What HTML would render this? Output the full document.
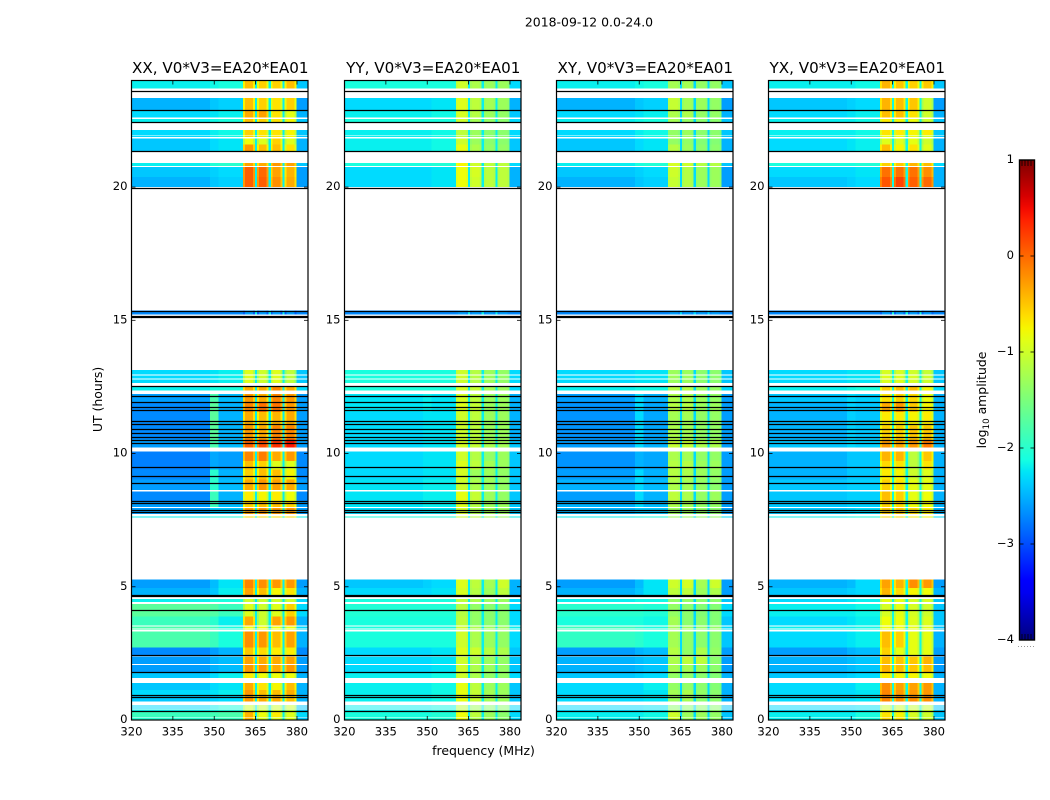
<!DOCTYPE html>
<html lang="en">
<head>
<meta charset="utf-8">
<title>2018-09-12 dynamic spectra</title>
<style>
html,body{margin:0;padding:0;background:#fff;width:1050px;height:800px;overflow:hidden}
svg{display:block}
text{font-family:"DejaVu Sans","Liberation Sans",sans-serif;fill:#000}
</style>
</head>
<body>
<svg id="figure" width="1050" height="800" viewBox="0 0 1050 800" xmlns="http://www.w3.org/2000/svg">
  <defs>
    <linearGradient id="jetGradient" x1="0" y1="1" x2="0" y2="0"></linearGradient>
  </defs>
  <rect x="0" y="0" width="1050" height="800" fill="#fff"/>
  <text x="589" y="26.5" font-size="12.45" text-anchor="middle">2018-09-12 0.0-24.0</text>
  <text x="0" y="0" font-size="12.45" text-anchor="middle" transform="translate(102,399.5) rotate(-90)">UT (hours)</text>
  <text x="483.5" y="755" font-size="12.45" text-anchor="middle">frequency (MHz)</text>
  <text x="0" y="0" font-size="12.45" text-anchor="middle" transform="translate(986,400) rotate(-90)">log<tspan font-size="8.7" dy="3">10</tspan><tspan dy="-3"> amplitude</tspan></text>
  <g id="panels"></g>
  <g id="colorbar"></g>
</svg>
<script>
// ---- Axis ticks ----
const freqTicks = [320, 335, 350, 365, 380];
const utTicks = [0, 5, 10, 15, 20];
const colorbarTicks = [1, 0, -1, -2, -3, -4];

// ---- Heatmap coordinates ----
const polarizations = ["XX", "YY", "XY", "YX"];
const baselineLabel = "V0*V3=EA20*EA01";
const channelEdges = [320, 348.5, 351.5, 360.5, 361.2, 364.0, 364.7, 365.5, 366.2, 369.0, 369.7, 370.5, 371.2, 374.0, 374.7, 375.5, 376.2, 379.1, 379.8, 384];
const utRows = [
[0,.09],[.12,.31],[.32,.40],[.43,.46],[.50,.54],[.70,.92],[.92,1.12],[1.12,1.38],[1.58,1.79],[1.79,2.06],
[2.10,2.38],[2.42,2.72],[2.72,3.32],[3.39,3.44],[3.46,3.50],[3.54,3.88],[3.88,4.36],[4.42,4.55],[4.62,4.95],[4.95,5.27],
[7.60,7.63],[7.74,7.96],[8.00,8.22],[8.22,8.57],[8.64,9.02],[9.02,9.40],[9.40,9.72],[9.72,10.07],[10.22,10.52],[10.52,11.05],
[11.05,11.55],[11.55,11.90],[11.90,12.24],[12.36,12.51],[12.64,12.77],[12.81,12.92],[12.96,13.14],[15.22,15.36],[20.0,20.38],[20.38,20.76],
[20.79,20.91],[21.33,21.6],[21.6,21.83],[21.88,21.93],[21.96,22.14],[22.43,22.56],[22.62,22.89],[22.89,23.34],[23.7,24]
];
const flaggedTimes = [.31,.855,.92,1.79,2.42,4.11,4.62,4.67,7.77,7.88,8.11,8.2,8.86,9.14,9.46,10.36,10.48,10.6,10.75,10.92,11.08,11.19,11.6,11.72,11.93,12.13,12.51,15.11,15.15,15.32,19.95,21.32,22.42,22.89,23.6];

// ---- log10 amplitude per UT row: [left, 350 MHz, mid, band1, band2, band3, band4, right] ----
const levelsXX = [
[-2.0,-1.95,-1.9,-.4,-.9,-.9,-.9,-2.4],[-1.9,-1.85,-1.8,-.4,-.8,-.7,-.9,-2.3],[-2.2,-2.15,-2.1,-1,-1,-1,-1.1,-2.4],[-2.3,-2.2,-2.1,-1,-1,-1,-1,-2.4],[-2.3,-2.2,-2.1,-1,-1,-1,-1,-2.4],
[-2.4,-2.35,-2.3,-.25,-.35,-.35,-.45,-2.5],[-2.3,-2.25,-2.2,-.25,-.45,-.45,-.35,-2.5],[-2.4,-2.3,-2.25,-.35,-.65,-.75,-.45,-2.5],[-2.4,-2.3,-2.2,-.7,-.8,-.8,-.8,-2.5],[-2.6,-2.5,-2.45,-.25,-.25,-.35,-.25,-2.6],
[-2.6,-2.5,-2.45,-.3,-.35,-.35,-.3,-2.6],[-2.7,-2.6,-2.5,-.5,-.6,-.7,-.7,-2.7],[-1.8,-1.9,-2.1,-.2,-.25,-.45,-.3,-2.5],[-1.8,-1.9,-2.1,-.8,-.8,-.8,-.8,-2.3],[-1.8,-1.9,-2.1,-.8,-.8,-.8,-.8,-2.3],
[-1.9,-2,-2.2,-.35,-1,-.3,-.25,-2.5],[-1.7,-1.75,-1.9,-.9,-1,-.9,-.55,-2.3],[-2.2,-2.1,-2.1,-1,-1,-1,-1,-2.3],[-2.5,-2.4,-2.2,-.3,-.45,-.75,-.65,-2.5],[-2.6,-2.45,-2.25,-.15,-.2,-.25,-.25,-2.6],
[-2.2,-2.1,-2.1,-.6,-.6,-.6,-.6,-2.2],[-2.6,-2.4,-2.4,-.3,-.25,-.25,-.25,-2.6],[-2.6,-1.9,-2.45,-.55,-.45,-.45,-.55,-2.6],[-2.7,-1.9,-2.5,-.7,-.75,-.7,-.8,-2.7],[-2.6,-2,-2.45,-.35,-.25,-.3,-.35,-2.6],
[-2.7,-2,-2.5,-.55,-.45,-.45,-.75,-2.7],[-2.75,-2.55,-2.6,-.45,-.55,-.9,-.9,-2.7],[-2.75,-2.55,-2.6,-.15,-.1,-.35,-.25,-2.7],[-2.6,-1.8,-2.45,.05,.15,.3,.45,-2.6],[-2.7,-1.7,-2.5,-.25,-.35,-.15,-.15,-2.6],
[-2.7,-1.7,-2.5,-.35,-.45,-.4,-.35,-2.6],[-2.7,-1.7,-2.5,-.15,-.05,-.05,-.25,-2.6],[-2.6,-1.8,-2.45,-.25,-.35,-.15,-.25,-2.6],[-2.2,-2.1,-2.1,-.35,-.35,-.15,-.35,-2.3],[-2.3,-2.25,-2.2,-.9,-1,-.9,-1.1,-2.4],
[-2.3,-2.25,-2.2,-.9,-1,-.9,-1.1,-2.4],[-2.3,-2.25,-2.2,-.9,-1,-.9,-1.1,-2.4],[-2.7,-2.7,-2.7,-2.6,-2.6,-2.6,-2.6,-2.7],[-2.5,-2.4,-2.35,.05,.05,-.2,-.35,-2.6],[-2.4,-2.35,-2.3,.05,0,-.3,-.4,-2.6],
[-2.2,-2.05,-2,-.3,-.35,-.25,-.3,-2.4],[-2.4,-2.3,-2.25,-.25,-.45,-.45,-.65,-2.5],[-2.4,-2.3,-2.25,-.8,-.9,-.55,-.9,-2.5],[-2.3,-2.2,-2.15,-.55,-.65,-.65,-.75,-2.4],[-2.3,-2.2,-2.15,-.55,-.65,-.65,-.75,-2.4],
[-2.2,-2.15,-2.1,-.45,-.55,-.65,-.75,-2.4],[-2.3,-2.25,-2.2,-.35,-.3,-.65,-.85,-2.5],[-2.5,-2.4,-2.35,-.45,-.55,-.65,-.55,-2.6],[-2.2,-2.15,-2.1,-.45,-.55,-.55,-.45,-2.4]
];
const levelsYY = [
[-2.1,-2.1,-2.05,-.8,-1.2,-1.3,-1.4,-2.3],[-2.1,-2.1,-2.05,-.8,-1.1,-1.3,-1.4,-2.3],[-2.2,-2.2,-2.15,-1.1,-1.3,-1.4,-1.4,-2.3],[-2.2,-2.2,-2.15,-1.1,-1.3,-1.4,-1.4,-2.3],[-2.2,-2.2,-2.15,-1.1,-1.3,-1.4,-1.4,-2.3],
[-2.2,-2.2,-2.15,-.85,-1.05,-1.25,-1.3,-2.4],[-2.2,-2.2,-2.15,-.85,-1.05,-1.25,-1.3,-2.4],[-2.2,-2.2,-2.15,-.85,-1.1,-1.3,-1.3,-2.4],[-2.2,-2.2,-2.15,-1,-1.2,-1.35,-1.35,-2.3],[-2.3,-2.3,-2.25,-1,-1.2,-1.3,-1.35,-2.4],
[-2.3,-2.3,-2.25,-1,-1.2,-1.3,-1.35,-2.4],[-2.3,-2.3,-2.25,-.9,-1,-1.15,-1.2,-2.4],[-2.1,-2.1,-2.1,-1,-1.2,-1.3,-1.35,-2.3],[-2.1,-2.1,-2.1,-1,-1.2,-1.3,-1.3,-2.2],[-2.1,-2.1,-2.1,-1,-1.2,-1.3,-1.3,-2.2],
[-2.1,-2.1,-2.1,-1.1,-1.35,-1.4,-1.4,-2.3],[-2.05,-2.05,-2.05,-1.15,-1.35,-1.4,-1.4,-2.3],[-2.1,-2.1,-2.1,-1.1,-1.2,-1.3,-1.3,-2.3],[-2.3,-2.3,-2.25,-.95,-1.15,-1.3,-1.1,-2.5],[-2.4,-2.35,-2.3,-.9,-1.1,-1.25,-1,-2.5],
[-2.1,-2.1,-2.1,-1,-1.1,-1.2,-1.3,-2.2],[-2.3,-2.25,-2.25,-.95,-1.2,-1.25,-1.3,-2.4],[-2.25,-2.2,-2.2,-.9,-1.15,-1.3,-1.3,-2.4],[-2.25,-2.2,-2.2,-.85,-1.05,-1.3,-1.35,-2.4],[-2.25,-2.2,-2.2,-1,-1.2,-1.3,-1.35,-2.4],
[-2.3,-2.25,-2.25,-.95,-1.3,-1.3,-1.35,-2.4],[-2.3,-2.25,-2.25,-.9,-1.1,-1.25,-1.3,-2.4],[-2.3,-2.25,-2.25,-1,-1.15,-1.35,-1.3,-2.4],[-2.3,-2.25,-2.25,-.95,-1.05,-1.2,-1.25,-2.4],[-2.3,-2.25,-2.25,-1,-1.1,-1.3,-1.3,-2.5],
[-2.3,-2.25,-2.25,-1,-1.1,-1.3,-1.3,-2.5],[-2.25,-2.2,-2.25,-.9,-1.05,-1.3,-1.3,-2.5],[-2.25,-2.2,-2.25,-.95,-1.1,-1.3,-1.3,-2.5],[-2.1,-2.1,-2.1,-.95,-1.05,-1.25,-1.3,-2.3],[-2.1,-2.1,-2.1,-1,-1.15,-1.3,-1.35,-2.3],
[-2.1,-2.1,-2.1,-1,-1.15,-1.3,-1.35,-2.3],[-2.1,-2.1,-2.1,-1,-1.15,-1.3,-1.35,-2.3],[-2.7,-2.7,-2.7,-2.6,-2.6,-2.6,-2.6,-2.7],[-2.3,-2.3,-2.25,-.8,-1,-1.1,-1.1,-2.5],[-2.3,-2.3,-2.25,-.8,-.95,-1.1,-1.1,-2.5],
[-2.1,-2.1,-2.05,-.75,-1,-1.1,-1.1,-2.3],[-2.2,-2.2,-2.15,-.85,-1.2,-1.35,-1.35,-2.4],[-2.2,-2.2,-2.15,-1,-1.3,-1.4,-1.4,-2.4],[-2.2,-2.2,-2.15,-1.1,-1.3,-1.4,-1.4,-2.3],[-2.2,-2.2,-2.15,-1.1,-1.3,-1.4,-1.4,-2.3],
[-2.1,-2.1,-2.1,-1,-1.25,-1.35,-1.4,-2.3],[-2.2,-2.2,-2.15,-.95,-1.15,-1.3,-1.35,-2.4],[-2.3,-2.3,-2.25,-.9,-1.1,-1.25,-1.3,-2.5],[-2.1,-2.1,-2.1,-1,-1.2,-1.3,-1.3,-2.3]
];
const levelsXY = [
[-2.2,-2.2,-2.15,-1,-1.3,-1.3,-1.35,-2.4],[-2.2,-2.2,-2.15,-1,-1.3,-1.3,-1.35,-2.4],[-2.3,-2.3,-2.25,-1.35,-1.4,-1.4,-1.4,-2.4],[-2.3,-2.3,-2.25,-1.4,-1.4,-1.4,-1.4,-2.4],[-2.3,-2.3,-2.25,-1.4,-1.4,-1.4,-1.4,-2.4],
[-2.3,-2.3,-2.25,-1.3,-1.25,-1.4,-1.4,-2.5],[-2.3,-2.3,-2.25,-1.25,-1.2,-1.35,-1.4,-2.5],[-2.3,-2.3,-2.2,-1.35,-1.35,-1.4,-1.45,-2.5],[-2.4,-2.35,-2.3,-1.35,-1.35,-1.4,-1.45,-2.5],[-2.5,-2.45,-2.4,-1.25,-1.25,-1.3,-1.4,-2.6],
[-2.5,-2.45,-2.4,-1.2,-1.1,-1.1,-1.4,-2.6],[-2.6,-2.5,-2.45,-1.15,-1.35,-1.2,-1.35,-2.6],[-1.95,-2,-2.1,-1.25,-1.35,-1.4,-1.4,-2.4],[-1.9,-2,-2.1,-1.3,-1.3,-1.35,-1.35,-2.3],[-1.9,-2,-2.1,-1.3,-1.3,-1.35,-1.35,-2.3],
[-2.1,-2.1,-2.15,-1.25,-1.4,-1.4,-1.45,-2.4],[-2,-2,-2.05,-1.35,-1.4,-1.45,-1.45,-2.3],[-2.2,-2.15,-2.15,-1.35,-1.35,-1.4,-1.4,-2.4],[-2.5,-2.4,-2.25,-1.1,-1.1,-1.3,-1.2,-2.6],[-2.6,-2.45,-2.25,-1,-.95,-1.25,-1,-2.6],
[-2.2,-2.15,-2.1,-1.3,-1.3,-1.35,-1.35,-2.3],[-2.5,-2.4,-2.4,-1.3,-1.3,-1.35,-1.4,-2.6],[-2.5,-2.3,-2.45,-1.2,-1.25,-1.35,-1.35,-2.6],[-2.6,-2.3,-2.5,-1.1,-1.2,-1.35,-1.3,-2.6],[-2.5,-2.3,-2.45,-1.2,-1.25,-1.35,-1.4,-2.6],
[-2.6,-2.3,-2.5,-1.15,-1.2,-1.3,-1.35,-2.6],[-2.65,-2.5,-2.55,-1.15,-1.15,-1.3,-1.3,-2.6],[-2.65,-2.5,-2.55,-1.2,-1.25,-1.35,-1.35,-2.6],[-2.6,-2.3,-2.5,-1.05,-1.05,-1.2,-1.2,-2.6],[-2.65,-2.3,-2.55,-1.2,-1.25,-1.35,-1.35,-2.6],
[-2.65,-2.3,-2.55,-1.25,-1.25,-1.35,-1.35,-2.6],[-2.65,-2.3,-2.55,-1.15,-1.15,-1.3,-1.3,-2.6],[-2.6,-2.3,-2.5,-1.2,-1.2,-1.3,-1.35,-2.6],[-2.2,-2.15,-2.15,-1.15,-1.15,-1.3,-1.35,-2.3],[-2.3,-2.25,-2.25,-1.3,-1.3,-1.4,-1.4,-2.4],
[-2.3,-2.25,-2.25,-1.3,-1.3,-1.4,-1.4,-2.4],[-2.3,-2.25,-2.25,-1.3,-1.3,-1.4,-1.4,-2.4],[-2.7,-2.7,-2.7,-2.6,-2.6,-2.6,-2.6,-2.7],[-2.5,-2.4,-2.35,-1.05,-1.15,-1.3,-1.3,-2.6],[-2.4,-2.35,-2.3,-1,-1.15,-1.3,-1.3,-2.6],
[-2.2,-2.1,-2.05,-.95,-1,-1.15,-1.15,-2.4],[-2.4,-2.3,-2.25,-1.15,-1.3,-1.4,-1.4,-2.5],[-2.4,-2.3,-2.25,-1.35,-1.35,-1.45,-1.45,-2.5],[-2.3,-2.2,-2.15,-1.35,-1.3,-1.4,-1.4,-2.4],[-2.3,-2.2,-2.15,-1.35,-1.3,-1.4,-1.4,-2.4],
[-2.2,-2.15,-2.1,-1.25,-1.35,-1.4,-1.4,-2.4],[-2.3,-2.25,-2.2,-1.2,-1.2,-1.35,-1.35,-2.5],[-2.5,-2.4,-2.35,-1.05,-1.25,-1.3,-1.35,-2.6],[-2.2,-2.15,-2.1,-1.25,-1.25,-1.35,-1.35,-2.4]
];
const levelsYX = [
[-2.2,-2.2,-2.1,-.6,-.65,-.95,-1,-2.4],[-2.2,-2.2,-2.1,-.65,-.75,-.95,-1,-2.4],[-2.3,-2.3,-2.25,-.9,-.9,-1,-1,-2.4],[-2.3,-2.3,-2.25,-1,-1,-1.05,-1.05,-2.4],[-2.3,-2.3,-2.25,-1,-1,-1.05,-1.05,-2.4],
[-2.3,-2.3,-2.25,-.15,-.2,-.2,-.2,-2.5],[-2.3,-2.3,-2.25,-.15,-.25,-.25,-.25,-2.5],[-2.3,-2.3,-2.2,-.2,-.3,-.3,-.25,-2.5],[-2.4,-2.35,-2.3,-.7,-.75,-.75,-.8,-2.5],[-2.5,-2.45,-2.4,-.4,-.45,-.5,-.45,-2.6],
[-2.5,-2.45,-2.4,-.45,-.5,-.5,-.4,-2.6],[-2.6,-2.5,-2.45,-.55,-.85,-.85,-.85,-2.6],[-2.3,-2.25,-2.2,-.45,-.55,-.85,-.85,-2.5],[-2.2,-2.2,-2.15,-.8,-.8,-.85,-.85,-2.4],[-2.2,-2.2,-2.15,-.8,-.8,-.85,-.85,-2.4],
[-2.3,-2.25,-2.2,-.8,-.8,-.9,-.9,-2.4],[-2.2,-2.2,-2.15,-.95,-.85,-.95,-1,-2.4],[-2.3,-2.25,-2.2,-.85,-.85,-.95,-.95,-2.4],[-2.4,-2.35,-2.3,-.4,-.6,-.75,-.8,-2.5],[-2.5,-2.45,-2.3,-.3,-.4,-.2,-.25,-2.6],
[-2.2,-2.15,-2.1,-.6,-.6,-.7,-.75,-2.3],[-2.4,-2.35,-2.3,-.5,-.5,-.6,-.7,-2.5],[-2.4,-2.35,-2.35,-.55,-.6,-.8,-.8,-2.5],[-2.4,-2.35,-2.35,-.45,-.55,-.85,-.8,-2.5],[-2.4,-2.35,-2.35,-.55,-.65,-.85,-.85,-2.5],
[-2.5,-2.4,-2.4,-.7,-.75,-1,-.9,-2.5],[-2.5,-2.4,-2.4,-.6,-.65,-1.1,-.65,-2.5],[-2.5,-2.4,-2.4,-.4,-.4,-1.1,-.5,-2.5],[-2.4,-2.3,-2.35,-.25,-.3,-.25,-.1,-2.5],[-2.5,-2.35,-2.4,-.55,-.55,-.5,-.5,-2.5],
[-2.5,-2.35,-2.4,-.7,-.7,-.75,-.7,-2.5],[-2.5,-2.35,-2.4,-.35,-.25,-.5,-.75,-2.5],[-2.4,-2.3,-2.35,-.65,-.55,-.6,-.8,-2.5],[-2.2,-2.15,-2.1,-.55,-.45,-.45,-.75,-2.3],[-2.3,-2.25,-2.25,-.9,-.9,-.95,-1,-2.4],
[-2.3,-2.25,-2.25,-.9,-.9,-.95,-1,-2.4],[-2.3,-2.25,-2.25,-.95,-.95,-1,-1.05,-2.4],[-2.7,-2.7,-2.7,-2.6,-2.6,-2.6,-2.6,-2.7],[-2.4,-2.35,-2.3,.1,.2,.05,0,-2.5],[-2.3,-2.3,-2.25,-.05,-.05,-.05,-.2,-2.5],
[-2.1,-2.1,-2.05,-.55,-.5,-.4,-.45,-2.3],[-2.3,-2.25,-2.2,-.45,-.75,-.65,-.9,-2.5],[-2.3,-2.25,-2.2,-.9,-.9,-.85,-1,-2.5],[-2.2,-2.2,-2.15,-.8,-.8,-.85,-.95,-2.4],[-2.2,-2.2,-2.15,-.65,-.7,-.75,-.7,-2.4],
[-2.2,-2.2,-2.15,-.7,-.75,-.8,-1,-2.4],[-2.3,-2.25,-2.2,-.45,-.45,-.65,-1,-2.5],[-2.4,-2.35,-2.3,-.4,-.45,-.5,-1,-2.6],[-2.2,-2.2,-2.15,-.4,-.5,-.55,-.5,-2.4]
];
const polarizationLevels = [levelsXX, levelsYY, levelsXY, levelsYX];
const gapChannelLevel = [-2.2, -2.2, -2.3, -2.15];
const bandEdgeDrop = [0.3, 0.08, 0.08, 0.25];
</script>
<script>
const SVG_NS = "http://www.w3.org/2000/svg";
const panelLefts = [131.5, 344.5, 556.5, 768.5];
const panelWidth = 176.5;
const plotTop = 80.5;
const plotBottom = 720;
const freqMin = 320, freqMax = 384, utMin = 0, utMax = 24;
const cbarLeft = 1019.5, cbarRight = 1034.5, cbarTop = 160, cbarBottom = 640, vMin = -4, vMax = 1;

function make(tag, attrs, parent) {
  const el = document.createElementNS(SVG_NS, tag);
  for (const k in attrs) el.setAttribute(k, attrs[k]);
  parent.appendChild(el);
  return el;
}
function xScale(left, f) { return left + (f - freqMin) / (freqMax - freqMin) * panelWidth; }
function yScale(h) { return plotBottom - (h - utMin) / (utMax - utMin) * (plotBottom - plotTop); }
function cbarY(v) { return cbarBottom - (v - vMin) / (vMax - vMin) * (cbarBottom - cbarTop); }

function piecewise(t, pts) {
  if (t <= pts[0][0]) return pts[0][1];
  for (let i = 1; i < pts.length; i++) {
    if (t <= pts[i][0]) {
      const a = pts[i - 1], b = pts[i];
      return a[1] + (b[1] - a[1]) * (t - a[0]) / (b[0] - a[0]);
    }
  }
  return pts[pts.length - 1][1];
}
const jetR = [[0,0],[.35,0],[.66,1],[.89,1],[1,.5]];
const jetG = [[0,0],[.125,0],[.375,1],[.64,1],[.91,0],[1,0]];
const jetB = [[0,.5],[.11,1],[.34,1],[.65,0],[1,0]];
function jet(t) {
  const c = p => Math.round(255 * piecewise(t, p));
  return "rgb(" + c(jetR) + "," + c(jetG) + "," + c(jetB) + ")";
}
function levelColor(v) {
  return jet(Math.max(0, Math.min(1, (v - vMin) / (vMax - vMin))));
}
// Which column of a level row each channel block reads; -1 is a band-gap channel.
const blockColumn = [0, 1, 2, 3, 3, 3, -1, 4, 4, 4, -1, 5, 5, 5, -1, 6, 6, 6, 7];
// Blocks 1 and 3 of each band triple are the band's roll-off edges.
const blockIsEdge = [0, 0, 0, 1, 0, 1, 0, 1, 0, 1, 0, 1, 0, 1, 0, 1, 0, 1, 0];
function channelLevel(row, block, p) {
  const idx = blockColumn[block];
  if (idx < 0) return gapChannelLevel[p];
  return row[idx] - (blockIsEdge[block] ? bandEdgeDrop[p] : 0);
}

const panelsGroup = document.getElementById("panels");
polarizations.forEach(function (pol, p) {
  const left = panelLefts[p];
  const right = left + panelWidth;
  const g = make("g", {}, panelsGroup);
  
  

  const levels = polarizationLevels[p];
  const cells = make("g", { "shape-rendering": "crispEdges" }, g);
  
  
  utRows.forEach(function (span, r) {
    const yA = yScale(span[1]), yB = yScale(span[0]);
    for (let b = 0; b < channelEdges.length - 1; b++) {
      const xA = xScale(left, channelEdges[b]), xB = xScale(left, channelEdges[b + 1]);
      const rect = make("rect", {
        x: xA.toFixed(2), y: yA.toFixed(2),
        width: (xB - xA).toFixed(2), height: Math.max(1, yB - yA).toFixed(2),
        fill: levelColor(channelLevel(levels[r], b, p))
      }, cells);
      
      
    }
  });

  flaggedTimes.forEach(function (h) {
    const y = Math.round(yScale(h) - 0.5) + 0.5;
    const line = make("line", { x1: left, x2: right, y1: y, y2: y, stroke: "#000", "stroke-width": 1.3 }, g);
    
    
  });

  const frame = make("rect", { x: left, y: plotTop, width: panelWidth, height: plotBottom - plotTop, fill: "none", stroke: "#000", "stroke-width": 1.2 }, g);
  
  

  const title = make("text", { x: left + panelWidth / 2 + 0.5, y: 73, "font-size": 15.15, "text-anchor": "middle" }, g);
  title.textContent = pol + ", " + baselineLabel;
  
  

  freqTicks.forEach(function (f) {
    const x = xScale(left, f);
    const bottomTick = make("line", { x1: x, x2: x, y1: plotBottom, y2: plotBottom - 4, stroke: "#000", "stroke-width": 0.8 }, g);
    
    
    const topTick = make("line", { x1: x, x2: x, y1: plotTop, y2: plotTop + 4, stroke: "#000", "stroke-width": 0.8 }, g);
    
    
    const label = make("text", { x: x, y: 735.5, "font-size": 11.6, "text-anchor": "middle" }, g);
    label.textContent = String(f);
    
    
  });

  utTicks.forEach(function (h) {
    const y = yScale(h);
    const leftTick = make("line", { x1: left, x2: left + 4, y1: y, y2: y, stroke: "#000", "stroke-width": 0.8 }, g);
    
    
    const rightTick = make("line", { x1: right, x2: right - 4, y1: y, y2: y, stroke: "#000", "stroke-width": 0.8 }, g);
    
    
    const label = make("text", { x: left - 4, y: y + 3, "font-size": 11.6, "text-anchor": "end" }, g);
    label.textContent = String(h);
    
    
  });
});

// Colorbar
const grad = document.getElementById("jetGradient");
for (let i = 0; i <= 40; i++) {
  const t = i / 40;
  make("stop", { offset: t, "stop-color": jet(t) }, grad);
}
const cb = document.getElementById("colorbar");
const cbRect = make("rect", { x: cbarLeft, y: cbarTop, width: cbarRight - cbarLeft, height: cbarBottom - cbarTop, fill: "url(#jetGradient)", stroke: "#000", "stroke-width": 1.4 }, cb);


colorbarTicks.forEach(function (v) {
  const y = cbarY(v);
  const l = make("line", { x1: cbarLeft, x2: cbarLeft + 4, y1: y, y2: y, stroke: "#000", "stroke-width": 0.8 }, cb);
  
  
  const r = make("line", { x1: cbarRight, x2: cbarRight - 4, y1: y, y2: y, stroke: "#000", "stroke-width": 0.8 }, cb);
  
  
  const label = make("text", { x: 1014, y: y + 3, "font-size": 11.6, "text-anchor": "end" }, cb);
  label.textContent = v < 0 ? "\u2212" + Math.abs(v) : String(v);
  
  
});
const minorXs = [1022, 1025, 1028, 1031];
[[cbarTop, cbarTop + 6], [cbarBottom, cbarBottom - 6]].forEach(function (seg) {
  minorXs.forEach(function (x) {
    const t = make("line", { x1: x, x2: x, y1: seg[0], y2: seg[1], stroke: "#000", "stroke-width": 0.8 }, cb);
    
    
  });
});
const dotXs = [1018, 1021, 1024, 1027, 1030, 1033];
dotXs.forEach(function (x) {
  const d = make("rect", { x: x, y: 646, width: 1, height: 1, fill: "#999" }, cb);
  
  
});
</script>
</body>
</html>
